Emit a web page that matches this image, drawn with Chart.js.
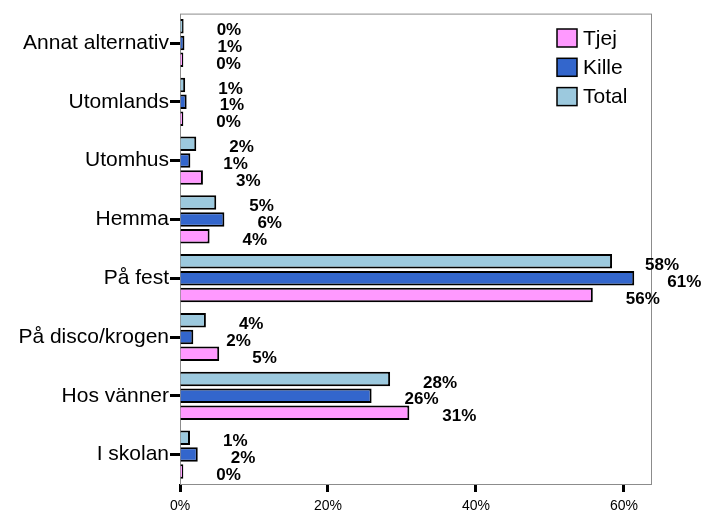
<!DOCTYPE html>
<html>
<head>
<meta charset="utf-8">
<script src="https://cdn.jsdelivr.net/npm/chart.js@4/dist/chart.umd.min.js"></script>
<style>
html,body{margin:0;padding:0;background:#fff;}
#wrap{width:704px;height:511px;position:relative;}
</style>
</head>
<body>
<div id="wrap"><canvas id="c" width="704" height="511"></canvas></div>
<script>
const categories = ['Annat alternativ','Utomlands','Utomhus','Hemma','På fest','På disco/krogen','Hos vänner','I skolan'];
const tjej  = [0.45, 0.45, 3.1, 4.0, 55.8, 5.3, 31.0, 0.45];
const kille = [0.6, 0.9, 1.4, 6.0, 61.4, 1.8, 25.9, 2.4];
const total = [0.49, 0.7, 2.2, 4.9, 58.4, 3.5, 28.4, 1.35];
const xTicks = [0, 20, 40, 60];
const xMax = 63.8;

const FONT = '"Liberation Sans", Arial, sans-serif';

const framePlugin = {
  id: 'frame',
  beforeDatasetsDraw(chart) {
    const {ctx, chartArea: a} = chart;
    ctx.save();
    ctx.strokeStyle = '#8c8c8c';
    ctx.lineWidth = 1;
    ctx.strokeRect(a.left + 0.5, a.top + 0.5, a.right - a.left - 1, a.bottom - a.top);
    ctx.restore();
  }
};

const labelPlugin = {
  id: 'vlabels',
  afterDatasetsDraw(chart) {
    const {ctx} = chart;
    ctx.save();
    ctx.font = 'bold 17px ' + FONT;
    ctx.fillStyle = '#000';
    ctx.textAlign = 'left';
    ctx.textBaseline = 'middle';
    chart.data.datasets.forEach((ds, i) => {
      const meta = chart.getDatasetMeta(i);
      meta.data.forEach((el, j) => {
        ctx.fillText(Math.round(ds.data[j]) + '%', el.x + 33, el.y + 4);
      });
    });
    ctx.restore();
  }
};

const legendPlugin = {
  id: 'customLegend',
  afterDraw(chart) {
    const {ctx} = chart;
    const order = [2, 1, 0];
    ctx.save();
    ctx.font = '21px ' + FONT;
    ctx.textBaseline = 'middle';
    ctx.textAlign = 'left';
    order.forEach((di, k) => {
      const ds = chart.data.datasets[di];
      const cy = 38 + k * 29.3;
      ctx.fillStyle = ds.backgroundColor;
      ctx.fillRect(557, cy - 9, 20, 18);
      ctx.strokeStyle = '#000';
      ctx.lineWidth = 1.5;
      ctx.strokeRect(557, cy - 9, 20, 18);
      ctx.fillStyle = '#000';
      ctx.fillText(ds.label, 583, cy + 1);
    });
    ctx.restore();
  }
};

new Chart(document.getElementById('c'), {
  type: 'bar',
  data: {
    labels: categories,
    datasets: [
      {label: 'Total', data: total, backgroundColor: '#9CC9DE', borderColor: '#000', borderWidth: 2},
      {label: 'Kille', data: kille, backgroundColor: '#3366CC', borderColor: '#000', borderWidth: 2},
      {label: 'Tjej',  data: tjej,  backgroundColor: '#FF99FF', borderColor: '#000', borderWidth: 2}
    ]
  },
  options: {
    indexAxis: 'y',
    responsive: false,
    animation: false,
    devicePixelRatio: 1,
    categoryPercentage: 0.86,
    barPercentage: 0.86,
    layout: {padding: {top: 12, right: 52, left: 0, bottom: 0}},
    plugins: {legend: {display: false}, tooltip: {enabled: false}},
    scales: {
      x: {
        min: 0,
        max: xMax,
        afterFit(s) { s.height = 27; },
        afterBuildTicks(s) { s.ticks = xTicks.map(v => ({value: v})); },
        border: {display: false},
        grid: {drawOnChartArea: false, drawTicks: true, tickLength: 8, tickWidth: 3, tickColor: '#000', color: 'rgba(0,0,0,0)'},
        ticks: {includeBounds: false, padding: 6, color: '#000', font: {family: FONT, size: 14}, callback: v => v + '%'}
      },
      y: {
        afterFit(s) { s.width = 180; },
        border: {display: false},
        grid: {offset: false, drawOnChartArea: false, drawTicks: true, tickLength: 10, tickWidth: 3, tickColor: '#000', color: 'rgba(0,0,0,0)'},
        ticks: {padding: 1, color: '#000', font: {family: FONT, size: 21}}
      }
    }
  },
  plugins: [framePlugin, labelPlugin, legendPlugin]
});
</script>
</body>
</html>
